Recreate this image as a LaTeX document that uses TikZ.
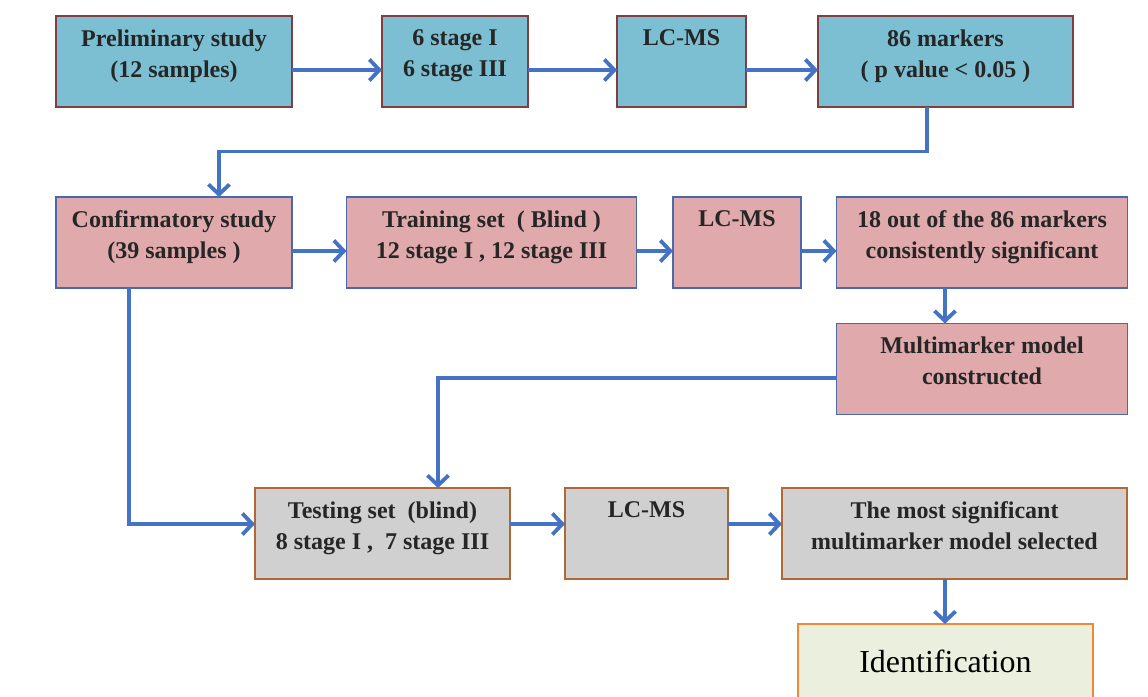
\documentclass[tikz,border=0pt]{standalone}
\usepackage{fontspec}
\setmainfont{Liberation Serif}
\usetikzlibrary{arrows.meta}
\definecolor{bfill}{RGB}{124,191,211}
\definecolor{bdraw}{RGB}{128,62,62}
\definecolor{pfill}{RGB}{224,169,171}
\definecolor{pdraw}{RGB}{74,104,170}
\definecolor{gfill}{RGB}{208,208,208}
\definecolor{gdraw}{RGB}{176,104,52}
\definecolor{ifill}{RGB}{235,240,222}
\definecolor{idraw}{RGB}{236,138,58}
\definecolor{arr}{RGB}{68,114,196}
\tikzset{
  bx/.style={rectangle, inner sep=0pt, outer sep=0pt, line width=1.3pt},
  bluebox/.style={bx, draw=bdraw, fill=bfill},
  pinkbox/.style={bx, draw=pdraw, fill=pfill},
  graybox/.style={bx, draw=gdraw, fill=gfill},
  idbox/.style={bx, draw=idraw, fill=ifill},
  txt/.style={anchor=north, inner sep=0pt, align=center, text=black!85,
    font=\bfseries\fontsize{24}{31}\selectfont},
  conn/.style={draw=arr, line width=3.8pt, line join=miter,
    -{Straight Barb[length=10pt,width=21pt]}},
}
\begin{document}
\begin{tikzpicture}[x=1pt,y=-1pt]
\useasboundingbox (0,0) rectangle (1148,696);
\fill[white] (0,0) rectangle (1148,696);
% row 1
\node[bluebox, minimum width=236pt, minimum height=91pt] (prelim) at (174,61.5) {};
\node[bluebox, minimum width=146pt, minimum height=91pt] (stage) at (455,61.5) {};
\node[bluebox, minimum width=129pt, minimum height=91pt] (lcms1) at (681.5,61.5) {};
\node[bluebox, minimum width=255pt, minimum height=91pt] (markers) at (945.5,61.5) {};
\node[txt] (prelimT) at ([yshift=-13.5pt]prelim.north) {Preliminary study\\(12 samples)};
\node[txt] (stageT) at ([yshift=-13.5pt]stage.north) {6 stage I\\6 stage III};
\node[txt] (lcms1T) at ([yshift=-13.5pt]lcms1.north) {LC-MS};
\node[txt] (markersT) at ([yshift=-13.5pt]markers.north) {86 markers\\( p value {<} 0.05 )};
% row 2
\node[pinkbox, minimum width=236pt, minimum height=91pt] (confirm) at (174,242.5) {};
\node[pinkbox, minimum width=290pt, minimum height=91pt] (training) at (491.5,242.5) {};
\node[pinkbox, minimum width=128pt, minimum height=91pt] (lcms2) at (737,242.5) {};
\node[pinkbox, minimum width=291pt, minimum height=91pt] (sig) at (982,242.5) {};
\node[pinkbox, minimum width=291pt, minimum height=91pt] (multi) at (982,369) {};
\node[txt] (confirmT) at ([yshift=-13.5pt]confirm.north) {Confirmatory study\\(39 samples )};
\node[txt] (trainingT) at ([yshift=-13.5pt]training.north) {Training set~ ( Blind )\\12 stage I , 12 stage III};
\node[txt] (lcms2T) at ([yshift=-13.5pt]lcms2.north) {LC-MS};
\node[txt] (sigT) at ([yshift=-13.5pt]sig.north) {18 out of the 86 markers\\consistently significant};
\node[txt] (multiT) at ([yshift=-13.5pt]multi.north) {Multimarker model\\constructed};
% row 3
\node[graybox, minimum width=255pt, minimum height=91pt] (testing) at (382.5,533.5) {};
\node[graybox, minimum width=163pt, minimum height=91pt] (lcms3) at (646.5,533.5) {};
\node[graybox, minimum width=345pt, minimum height=91pt] (best) at (954.5,533.5) {};
\node[txt] (testingT) at ([yshift=-13.5pt]testing.north) {Testing set~ (blind)\\8 stage I ,~ 7 stage III};
\node[txt] (lcms3T) at ([yshift=-13.5pt]lcms3.north) {LC-MS};
\node[txt] (bestT) at ([yshift=-13.5pt]best.north) {The most significant\\multimarker model selected};
% identification
\node[idbox, minimum width=295pt, minimum height=90pt] (ident) at (945.5,669) {};
\node[inner sep=0pt, font=\fontsize{32}{36}\selectfont] (identT) at (945.5,661) {Identification};
% connectors row 1
\draw[conn] ([yshift=-8.5pt]prelim.east) -- ([yshift=-8.5pt]stage.west);
\draw[conn] ([yshift=-8.5pt]stage.east) -- ([yshift=-8.5pt]lcms1.west);
\draw[conn] ([yshift=-8.5pt]lcms1.east) -- ([yshift=-8.5pt]markers.west);
\coordinate (c1) at (927,151.5);
\coordinate (c2) at (219,151.5);
\draw[conn] (markers.south -| c1) -- (c1) -- (c2) -- (c2 |- confirm.north);
% connectors row 2
\draw[conn] ([yshift=-8.5pt]confirm.east) -- ([yshift=-8.5pt]training.west);
\draw[conn] ([yshift=-8.5pt]training.east) -- ([yshift=-8.5pt]lcms2.west);
\draw[conn] ([yshift=-8.5pt]lcms2.east) -- ([yshift=-8.5pt]sig.west);
\coordinate (c3) at (945,300);
\draw[conn] (sig.south -| c3) -- (multi.north -| c3);
\coordinate (c4) at (438,378);
\draw[conn] (multi.west |- c4) -- (c4) -- (c4 |- testing.north);
\coordinate (c5) at (129,524);
\draw[conn] (confirm.south -| c5) -- (c5) -- (testing.west |- c5);
% connectors row 3
\draw[conn] ([yshift=9.5pt]testing.east) -- ([yshift=9.5pt]lcms3.west);
\draw[conn] ([yshift=9.5pt]lcms3.east) -- ([yshift=9.5pt]best.west);
\coordinate (c6) at (945,600);
\draw[conn] (best.south -| c6) -- (ident.north -| c6);
\end{tikzpicture}
\end{document}
